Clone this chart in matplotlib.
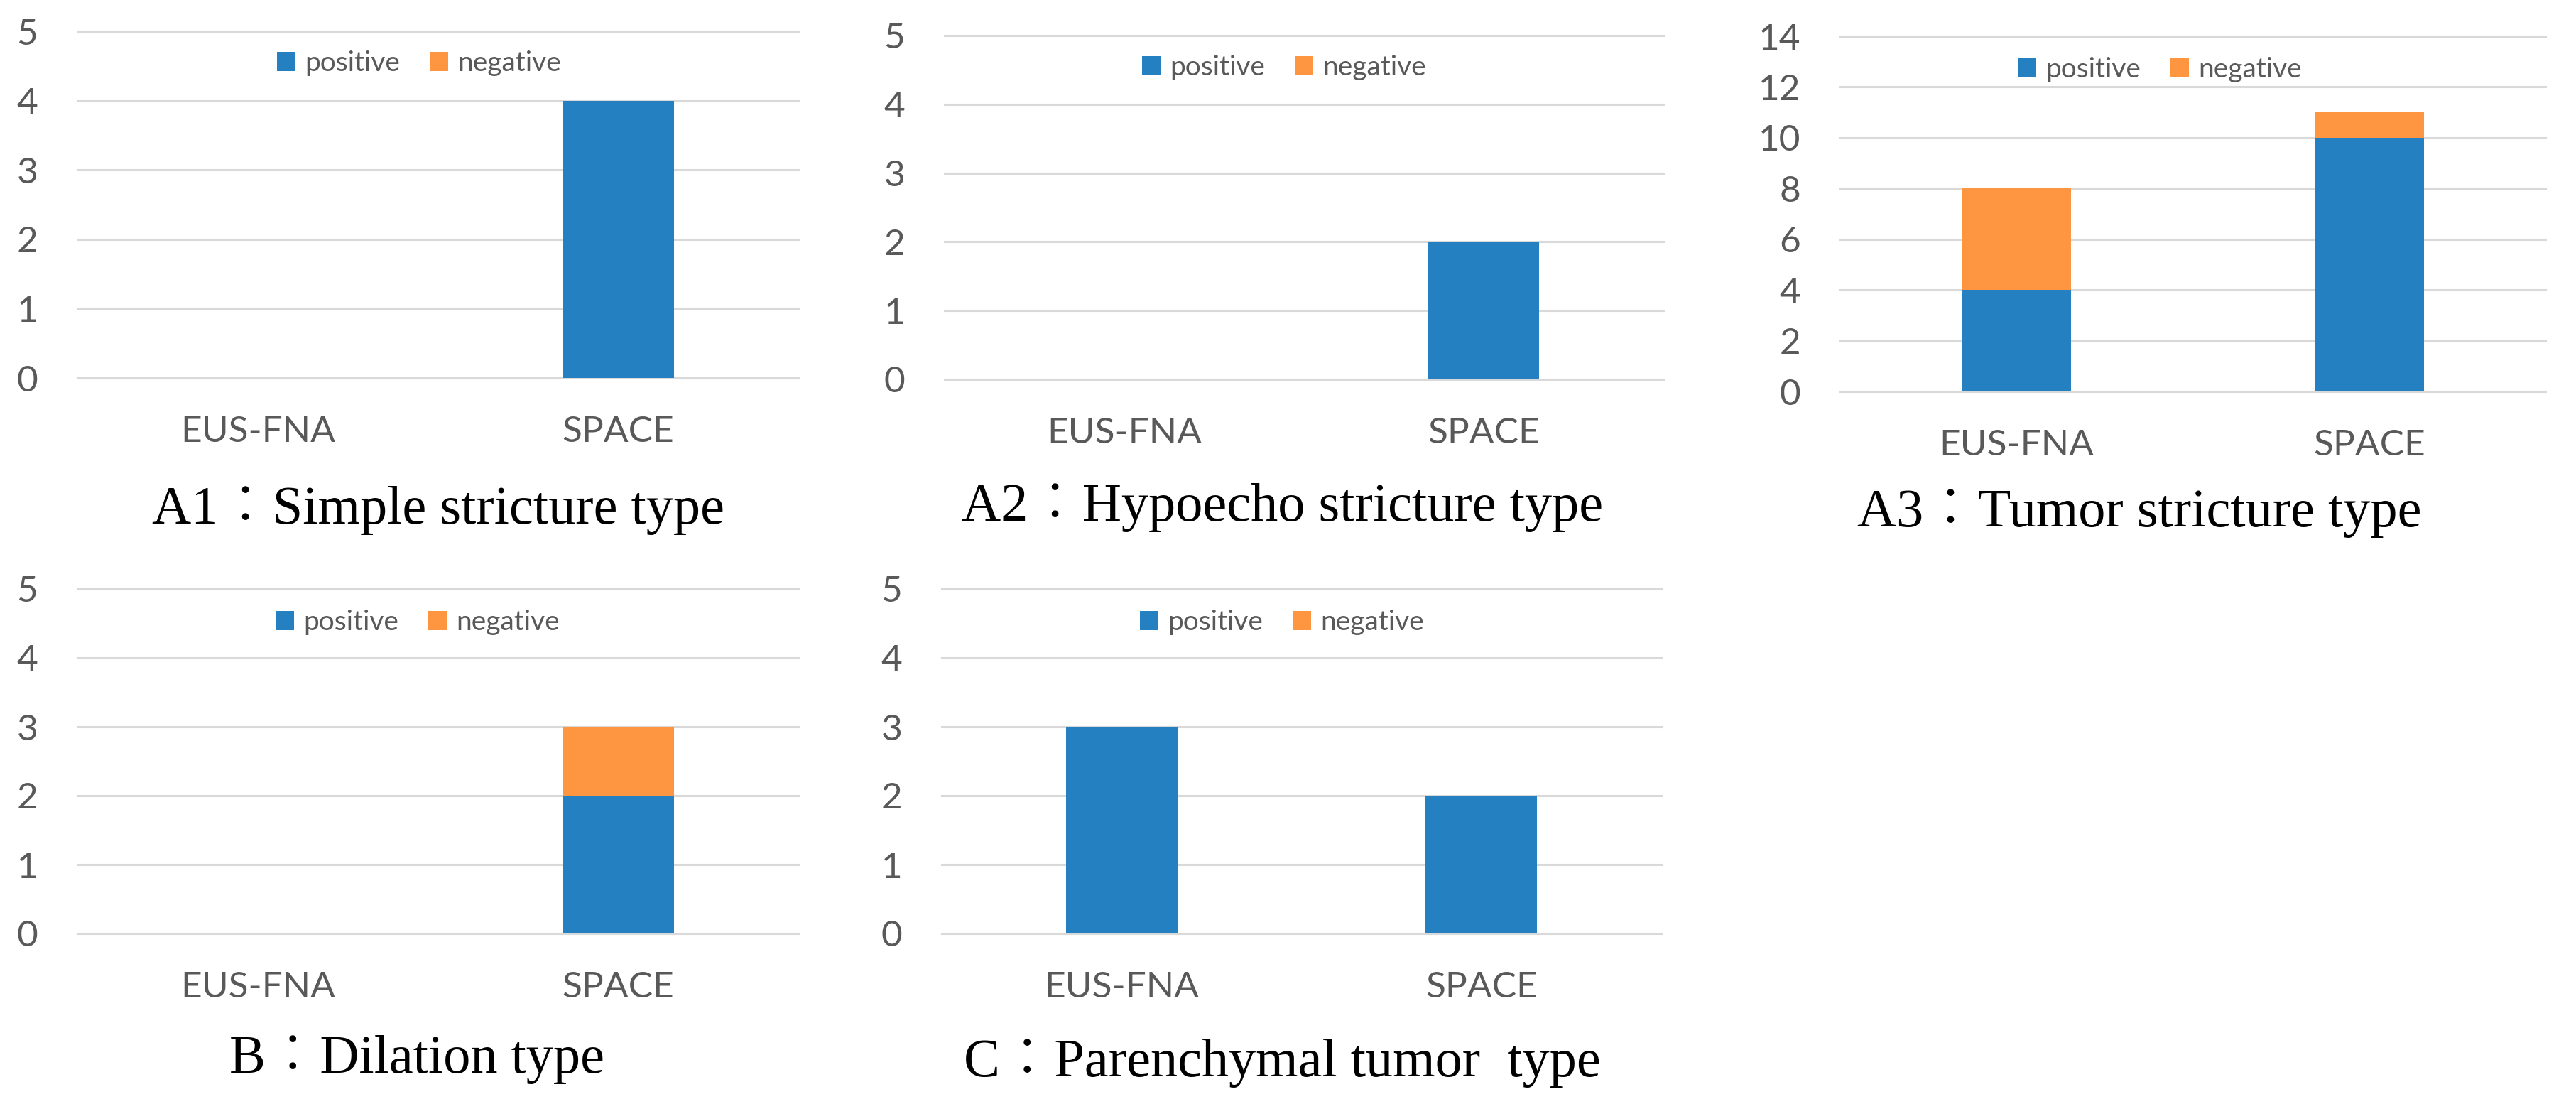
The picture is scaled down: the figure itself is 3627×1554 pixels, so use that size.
import matplotlib
matplotlib.use("Agg")
import matplotlib.pyplot as plt
from matplotlib.patches import Patch

# ---- data ----
categories = ["EUS-FNA", "SPACE"]
series_names = ["positive", "negative"]

a1_positive = [0, 4]
a1_negative = [0, 0]
a2_positive = [0, 2]
a2_negative = [0, 0]
a3_positive = [4, 10]
a3_negative = [4, 1]
b_positive = [0, 2]
b_negative = [0, 1]
c_positive = [3, 2]
c_negative = [0, 0]

small_ticks = [0, 1, 2, 3, 4, 5]
large_ticks = [0, 2, 4, 6, 8, 10, 12, 14]

captions = [
    "A1：Simple stricture type",
    "A2：Hypoecho stricture type",
    "A3：Tumor stricture type",
    "B：Dilation type",
    "C：Parenchymal tumor  type",
]

# ---- styling ----
W, H = 3627, 1554
DPI = 100
BLUE = "#2480c1"
ORANGE = "#fe9540"
GRID = "#d9d9d9"
TXT = "#595959"
SANS = ["Lato", "DejaVu Sans"]
SERIF = ["Liberation Serif", "Noto Sans CJK JP", "DejaVu Sans"]

fig = plt.figure(figsize=(W / DPI, H / DPI), dpi=DPI)
fig.patch.set_facecolor("white")


def px_axes(left, right, top, bottom):
    return fig.add_axes([left / W, 1 - bottom / H, (right - left) / W, (bottom - top) / H])


panels = [
    # (axes box px), positive, negative, ticks, legend center, caption (x, baseline)
    ((109, 1124, 44, 532), a1_positive, a1_negative, small_ticks, (590, 89), (617, 737)),
    ((1330, 2342, 50, 534), a2_positive, a2_negative, small_ticks, (1808, 95), (1806, 733)),
    ((2591, 3584, 51, 551), a3_positive, a3_negative, large_ticks, (3041, 98), (3012, 741)),
    ((109, 1124, 829, 1314), b_positive, b_negative, small_ticks, (588, 876), (587, 1510)),
    ((1326, 2339, 829, 1314), c_positive, c_negative, small_ticks, (1805, 876), (1805, 1515)),
]

for (box, pos, neg, ticks, leg_c, cap_c), cap in zip(panels, captions):
    ax = px_axes(*box)
    x = list(range(len(categories)))
    ax.bar(x, pos, width=0.31, color=BLUE, zorder=3, linewidth=0)
    ax.bar(x, neg, width=0.31, bottom=pos, color=ORANGE, zorder=3, linewidth=0)
    ax.set_xlim(-0.5, len(categories) - 0.5)
    ax.set_ylim(ticks[0], ticks[-1])
    ax.set_yticks(ticks)
    ax.set_yticklabels([str(t) for t in ticks], fontsize=37, color=TXT, family=SANS)
    ax.set_xticks(x)
    ax.set_xticklabels(categories, fontsize=37, color=TXT, family=SANS)
    ax.tick_params(axis="y", length=0, pad=40)
    ax.tick_params(axis="x", length=0, pad=38)
    for s in ax.spines.values():
        s.set_visible(False)
    ax.yaxis.grid(True, color=GRID, linewidth=2.2, zorder=0)
    ax.set_axisbelow(True)
    ax.patch.set_alpha(0)
    for gl in ax.get_ygridlines():
        gl.set_clip_on(False)

    handles = [Patch(facecolor=BLUE, edgecolor="none"), Patch(facecolor=ORANGE, edgecolor="none")]
    ax.legend(handles, series_names, loc="center",
              bbox_to_anchor=(leg_c[0] / W, 1 - leg_c[1] / H),
              bbox_transform=fig.transFigure, ncol=2, frameon=False,
              prop={"family": SANS, "size": 28},
              labelcolor=TXT, handlelength=0.67, handleheight=0.67,
              handletextpad=0.33, columnspacing=1.08, borderpad=0, borderaxespad=0)

    fig.text(cap_c[0] / W, 1 - cap_c[1] / H, cap, ha="center", va="baseline",
             fontsize=55, color="black", family=SERIF, fontweight="light")

fig.savefig("out.png", dpi=DPI, facecolor="white")
